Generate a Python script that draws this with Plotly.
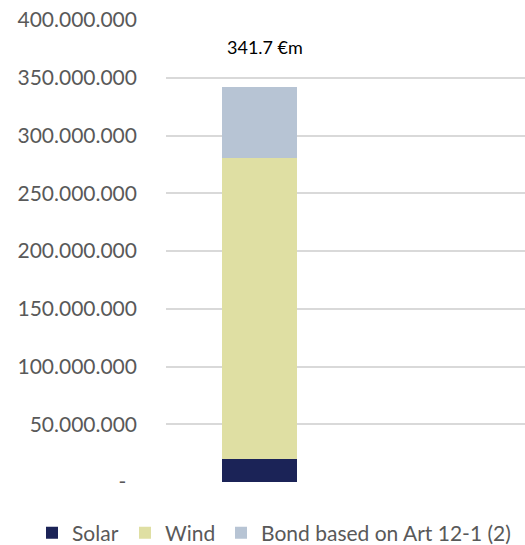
import plotly.graph_objects as go

categories = [0]
solar = [19.6e6]
wind = [260.8e6]
bond = [61.3e6]
total_label = "341.7 €m"
tick_vals = [0, 50e6, 100e6, 150e6, 200e6, 250e6, 300e6, 350e6, 400e6]
tick_text = ["-\u00a0\u00a0", "50.000.000", "100.000.000", "150.000.000", "200.000.000",
             "250.000.000", "300.000.000", "350.000.000", "400.000.000"]

fig = go.Figure()
fig.add_bar(x=categories, y=solar, name="Solar", marker_color="#1b2357", width=0.42,
            marker_line_width=0, legend="legend")
fig.add_bar(x=categories, y=wind, name="Wind", marker_color="#dfdfa3", width=0.42,
            marker_line_width=0, legend="legend2")
fig.add_bar(x=categories, y=bond, name="Bond based on Art 12-1 (2)", marker_color="#b7c4d4",
            width=0.42, marker_line_width=0, legend="legend3")

fig.add_annotation(x=categories[0], y=377e6, text=total_label,
                   showarrow=False, font=dict(size=18, color="#000000", family="Lato"),
                   xshift=6)

def leg(xpx):
    return dict(orientation="h", xref="container", yref="container",
                x=xpx / 525, xanchor="left", y=0.022, yanchor="middle",
                font=dict(size=21, color="#595959"), itemwidth=30,
                bgcolor="rgba(0,0,0,0)")

fig.update_layout(
    barmode="stack",
    width=525, height=545,
    margin=dict(l=166, r=0, t=20, b=63, autoexpand=False),
    plot_bgcolor="white", paper_bgcolor="white",
    font=dict(family="Lato", color="#595959"),
    xaxis=dict(range=[-0.52, 1.48], showticklabels=False, showgrid=False, zeroline=False),
    yaxis=dict(range=[0, 400e6], tickvals=tick_vals, ticktext=tick_text,
               showgrid=True, gridcolor="#d9d9d9", gridwidth=1.5, zeroline=False,
               tickfont=dict(size=21, color="#595959"), ticklabelstandoff=28),
    legend=leg(32), legend2=leg(125), legend3=leg(221),
    showlegend=True,
)
fig.write_html("out.html")
